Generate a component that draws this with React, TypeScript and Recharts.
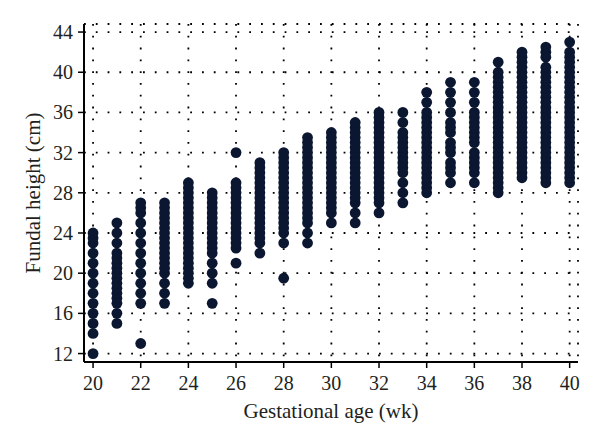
import { ScatterChart, Scatter, XAxis, YAxis, CartesianGrid, Label } from 'recharts';

const DOT = '#0b1731';
const INK = '#231f20';
const FONT = '"Liberation Serif", "DejaVu Serif", serif';

// fundal height readings (cm) at each gestational week
const w20 = [12, 14, 15, 16, 17, 18, 19, 20, 21, 22, 23, 23.5, 24];
const w21 = [15, 16, 17, 17.5, 18, 18.5, 19, 19.5, 20, 20.5, 21, 21.5, 22, 23, 24, 25];
const w22 = [13, 17, 18, 19, 20, 21, 22, 23, 24, 25, 26, 26.5, 27];
const w23 = [17, 18, 19, 20, 20.5, 21, 21.5, 22, 22.5, 23, 23.5, 24, 24.5, 25, 25.5, 26, 26.5, 27];
const w24 = [19, 19.5, 20, 20.5, 21, 21.5, 22, 22.5, 23, 23.5, 24, 24.5, 25, 25.5, 26, 26.5, 27, 27.5, 28, 28.5, 29];
const w25 = [17, 19, 20, 21, 22, 22.5, 23, 23.5, 24, 24.5, 25, 25.5, 26, 26.5, 27, 27.5, 28];
const w26 = [21, 22.5, 23, 23.5, 24, 24.5, 25, 25.5, 26, 26.5, 27, 27.5, 28, 28.5, 29, 32];
const w27 = [22, 23, 23.5, 24, 24.5, 25, 25.5, 26, 26.5, 27, 27.5, 28, 28.5, 29, 29.5, 30, 30.5, 31];
const w28 = [19.5, 23, 24, 24.5, 25, 25.5, 26, 26.5, 27, 27.5, 28, 28.5, 29, 29.5, 30, 30.5, 31, 31.5, 32];
const w29 = [23, 24, 25, 25.5, 26, 26.5, 27, 27.5, 28, 28.5, 29, 29.5, 30, 30.5, 31, 31.5, 32, 32.5, 33, 33.5];
const w30 = [25, 26, 26.5, 27, 27.5, 28, 28.5, 29, 29.5, 30, 30.5, 31, 31.5, 32, 32.5, 33, 33.5, 34];
const w31 = [25, 26, 27, 27.5, 28, 28.5, 29, 29.5, 30, 30.5, 31, 31.5, 32, 32.5, 33, 33.5, 34, 34.5, 35];
const w32 = [26, 27, 27.5, 28, 28.5, 29, 29.5, 30, 30.5, 31, 31.5, 32, 32.5, 33, 33.5, 34, 34.5, 35, 35.5, 36];
const w33 = [27, 28, 29, 30, 30.5, 31, 31.5, 32, 32.5, 33, 33.5, 34, 35, 36];
const w34 = [28, 28.5, 29, 29.5, 30, 30.5, 31, 31.5, 32, 32.5, 33, 33.5, 34, 34.5, 35, 35.5, 36, 37, 38];
const w35 = [29, 30, 30.5, 31, 32, 32.5, 33, 34, 34.5, 35, 36, 37, 38, 39];
const w36 = [29, 30, 30.5, 31, 31.5, 32, 33, 33.5, 34, 34.5, 35, 35.5, 36, 37, 38, 39];
const w37 = [28, 28.5, 29, 29.5, 30, 30.5, 31, 31.5, 32, 32.5, 33, 33.5, 34, 34.5, 35, 35.5, 36, 36.5, 37, 37.5, 38, 38.5, 39, 39.5, 40, 41];
const w38 = [29.5, 30, 30.5, 31, 31.5, 32, 32.5, 33, 33.5, 34, 34.5, 35, 35.5, 36, 36.5, 37, 37.5, 38, 38.5, 39, 39.5, 40, 40.5, 41, 41.5, 42];
const w39 = [29, 29.5, 30, 30.5, 31, 31.5, 32, 32.5, 33, 33.5, 34, 34.5, 35, 35.5, 36, 36.5, 37, 37.5, 38, 38.5, 39, 39.5, 40, 40.5, 41.5, 42, 42.5];
const w40 = [29, 29.5, 30, 30.5, 31, 31.5, 32, 32.5, 33, 33.5, 34, 34.5, 35, 35.5, 36, 36.5, 37, 37.5, 38, 38.5, 39, 39.5, 40, 40.5, 41, 41.5, 42, 43];

const weeks = [20, 21, 22, 23, 24, 25, 26, 27, 28, 29, 30, 31, 32, 33, 34, 35, 36, 37, 38, 39, 40];
const heights = [w20, w21, w22, w23, w24, w25, w26, w27, w28, w29, w30, w31, w32, w33, w34, w35, w36, w37, w38, w39, w40];

const xTicks = [20, 22, 24, 26, 28, 30, 32, 34, 36, 38, 40];
const yTicks = [12, 16, 20, 24, 28, 32, 36, 40, 44];

const points = weeks.flatMap((wk, i) => heights[i].map((h) => ({ week: wk, height: h })));

const XTick = ({ x, y, payload }: any) => (
  <text x={x} y={y + 20} textAnchor="middle" fontFamily={FONT} fontSize={20} fill={INK}>
    {payload.value}
  </text>
);

const YTick = ({ x, y, payload }: any) => (
  <text x={x} y={y + 7} textAnchor="end" fontFamily={FONT} fontSize={20} fill={INK}>
    {payload.value}
  </text>
);

export default function App() {
  return (
    <div style={{ width: 600, height: 447 }}>
      <style>{'body{margin:0}'}</style>
      <ScatterChart width={600} height={447} margin={{ top: 24, right: 22, bottom: 0, left: 0 }}>
        <CartesianGrid stroke="#000" strokeWidth={1.8} strokeDasharray="1.8 10" />
        <XAxis
          type="number"
          dataKey="week"
          domain={[19.62, 40.35]}
          ticks={xTicks}
          allowDataOverflow
          height={85}
          stroke="#000"
          strokeWidth={2}
          tickSize={6}
          tickMargin={2}
          tick={<XTick />}
          tickLine={{ stroke: '#000', strokeWidth: 1.5 }}
        >
          <Label
            content={({ viewBox }: any) => (
              <text
                x={viewBox.x + viewBox.width / 2}
                y={418}
                textAnchor="middle"
                fontFamily={FONT}
                fontSize={21}
                fill={INK}
              >
                Gestational age (wk)
              </text>
            )}
          />
        </XAxis>
        <YAxis
          type="number"
          dataKey="height"
          domain={[11.16, 44.8]}
          ticks={yTicks}
          allowDataOverflow
          width={84}
          stroke="#000"
          strokeWidth={2}
          tickSize={6}
          tickMargin={5}
          tick={<YTick />}
          tickLine={{ stroke: '#000', strokeWidth: 1.5 }}
        >
          <Label
            content={({ viewBox }: any) => {
              const cy = viewBox.y + viewBox.height / 2;
              return (
                <text
                  x={33}
                  y={cy}
                  transform={`rotate(-90, 33, ${cy})`}
                  textAnchor="middle"
                  dominantBaseline="central"
                  fontFamily={FONT}
                  fontSize={21}
                  fill={INK}
                >
                  Fundal height (cm)
                </text>
              );
            }}
          />
        </YAxis>
        <Scatter
          data={points}
          isAnimationActive={false}
          shape={(p: any) => <circle cx={p.cx} cy={p.cy} r={5.4} fill={DOT} />}
        />
      </ScatterChart>
    </div>
  );
}
